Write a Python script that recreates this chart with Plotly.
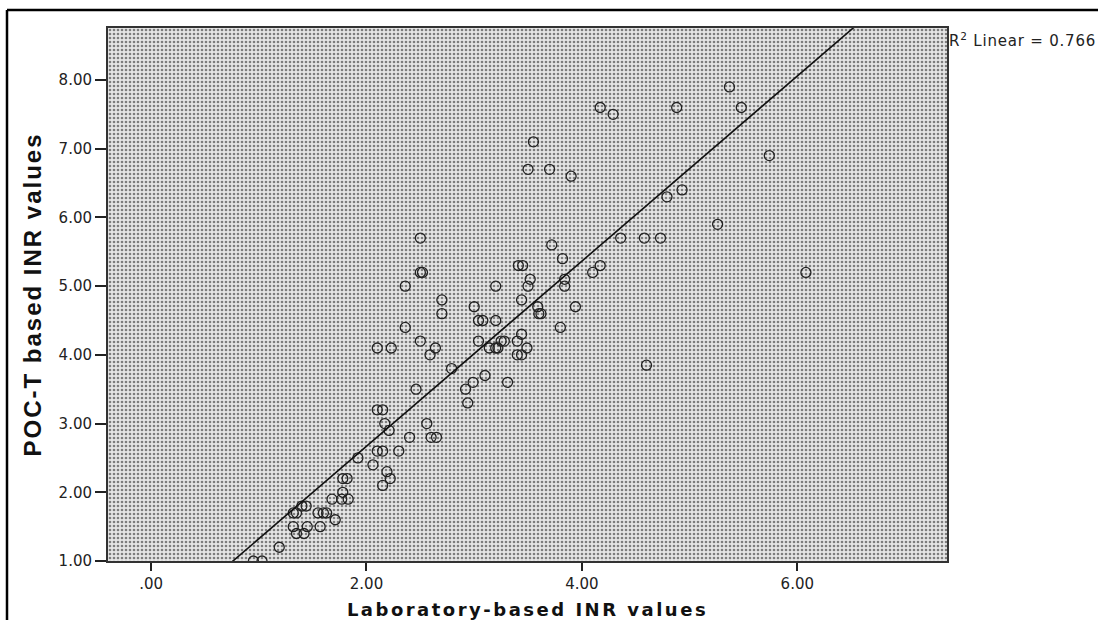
import numpy as np
import plotly.graph_objects as go

# Laboratory-based INR (x) and POC-T based INR (y) values
lab_inr = [0.95, 1.03, 1.19, 1.35, 1.42, 1.32, 1.45, 1.57, 1.71, 1.32,
           1.35, 1.55, 1.60, 1.63, 1.40, 1.44, 1.68, 1.77, 1.83, 1.78,
           1.78, 1.82, 1.92, 2.06, 2.10, 2.15, 2.30, 2.19, 2.22, 2.15,
           2.17, 2.21, 2.40, 2.60, 2.65, 2.56, 2.10, 2.15, 2.46, 2.79,
           2.92, 2.94, 2.99, 3.10, 3.31, 2.59, 2.64, 2.10, 2.23, 2.50,
           2.36, 2.70, 2.70, 2.36, 2.50, 2.52, 2.50, 3.00, 3.04, 3.08,
           3.20, 3.20, 3.04, 3.14, 3.20, 3.22, 3.25, 3.28, 3.40, 3.44,
           3.49, 3.40, 3.44, 3.41, 3.45, 3.52, 3.50, 3.44, 3.59, 3.60,
           3.62, 3.80, 3.94, 3.84, 3.84, 3.82, 3.72, 4.10, 4.17, 4.36,
           4.58, 4.73, 4.79, 4.93, 5.26, 5.74, 3.50, 3.70, 3.90, 3.55,
           4.17, 4.29, 4.88, 5.48, 5.37, 4.60, 6.08]
poc_inr = [1.0, 1.0, 1.2, 1.4, 1.4, 1.5, 1.5, 1.5, 1.6, 1.7,
           1.7, 1.7, 1.7, 1.7, 1.8, 1.8, 1.9, 1.9, 1.9, 2.0,
           2.2, 2.2, 2.5, 2.4, 2.6, 2.6, 2.6, 2.3, 2.2, 2.1,
           3.0, 2.9, 2.8, 2.8, 2.8, 3.0, 3.2, 3.2, 3.5, 3.8,
           3.5, 3.3, 3.6, 3.7, 3.6, 4.0, 4.1, 4.1, 4.1, 4.2,
           4.4, 4.6, 4.8, 5.0, 5.2, 5.2, 5.7, 4.7, 4.5, 4.5,
           4.5, 5.0, 4.2, 4.1, 4.1, 4.1, 4.2, 4.2, 4.2, 4.3,
           4.1, 4.0, 4.0, 5.3, 5.3, 5.1, 5.0, 4.8, 4.7, 4.6,
           4.6, 4.4, 4.7, 5.0, 5.1, 5.4, 5.6, 5.2, 5.3, 5.7,
           5.7, 5.7, 6.3, 6.4, 5.9, 6.9, 6.7, 6.7, 6.6, 7.1,
           7.6, 7.5, 7.6, 7.6, 7.9, 3.85, 5.2]

# Linear fit as shown on the chart
fit_slope = 1.347
fit_intercept = -0.024
r2_text = "R<sup>2</sup> Linear = 0.766"

x_tick_vals = [0, 2, 4, 6]
x_tick_text = [".00", "2.00", "4.00", "6.00"]
y_tick_vals = [1, 2, 3, 4, 5, 6, 7, 8]
y_tick_text = ["1.00", "2.00", "3.00", "4.00", "5.00", "6.00", "7.00", "8.00"]

x_range = [-0.40, 7.39]
y_range = [1.0, 8.757]

x_title = "Laboratory-based INR values"
y_title = "POC-T based INR values"

fig = go.Figure()

# dotted plot background (SPSS style)
fig.add_trace(go.Scatter(
    x=[x_range[0], x_range[1], x_range[1], x_range[0], x_range[0]],
    y=[y_range[0], y_range[0], y_range[1], y_range[1], y_range[0]],
    mode="lines", fill="toself", line=dict(width=0),
    fillcolor="rgba(0,0,0,0)",
    fillpattern=dict(shape=".", fgcolor="#7e7e7e", bgcolor="#e6e6e6",
                     size=4, solidity=0.34, fillmode="replace"),
    hoverinfo="skip", showlegend=False))

fig.add_trace(go.Scatter(
    x=lab_inr, y=poc_inr, mode="markers",
    marker=dict(symbol="circle-open", size=10, color="#222222",
                line=dict(width=1.3, color="#222222")),
    showlegend=False))

line_x = np.array(x_range)
line_y = fit_slope * line_x + fit_intercept
fig.add_trace(go.Scatter(
    x=line_x, y=line_y, mode="lines",
    line=dict(color="#111111", width=1.6),
    hoverinfo="skip", showlegend=False))

W, H = 1098, 620
L, R, T, B = 108, 151, 28, 59
pw, ph = W - L - R, H - T - B

fig.update_layout(
    width=W, height=H,
    margin=dict(l=L, r=R, t=T, b=B, pad=0, autoexpand=False),
    paper_bgcolor="white", plot_bgcolor="#c4c4c4",
    font=dict(family="DejaVu Sans", size=14, color="#222222"),
    xaxis=dict(range=x_range, tickvals=x_tick_vals, ticktext=x_tick_text,
               automargin=False,
               showgrid=False, zeroline=False, ticks="outside", ticklen=8,
               tickwidth=1.5, tickcolor="#222222",
               showline=True, linecolor="#333333", linewidth=2, mirror=True,
               tickfont=dict(family="DejaVu Sans", size=15, color="#222222"),
               title=dict(text='<span style="letter-spacing:2.5px">' + x_title + '</span>',
                          standoff=12,
                          font=dict(family="DejaVu Sans", size=18, color="#111111",
                                    weight="bold"))),
    yaxis=dict(range=y_range, tickvals=y_tick_vals, ticktext=y_tick_text,
               automargin=False,
               showgrid=False, zeroline=False, ticks="outside", ticklen=11,
               tickwidth=1.5, tickcolor="#222222",
               showline=True, linecolor="#333333", linewidth=2, mirror=True,
               tickfont=dict(family="DejaVu Sans", size=15, color="#222222"),
               title=dict(text='<span style="letter-spacing:2px">' + y_title + '</span>',
                          standoff=10,
                          font=dict(family="Liberation Sans", size=24, color="#111111",
                                    weight="bold"))),
    annotations=[
        dict(text='<span style="letter-spacing:0.8px">' + r2_text + '</span>',
             xref="paper", yref="paper", x=1.0, y=1 - 12 / ph,
             xanchor="left", yanchor="middle", showarrow=False,
             font=dict(family="DejaVu Sans", size=15, color="#222222")),
    ],
    shapes=[
        dict(type="line", xref="paper", yref="paper",
             x0=-101 / pw, x1=(W - L) / pw + 0.01, y0=1 + 18 / ph, y1=1 + 18 / ph,
             line=dict(color="black", width=2.5)),
        dict(type="line", xref="paper", yref="paper",
             x0=-101 / pw, x1=-101 / pw, y0=1 + 18 / ph, y1=-(B + 5) / ph,
             line=dict(color="black", width=2.5)),
    ],
)

fig.write_html("out.html", config={"displayModeBar": False},
               post_script="document.body.style.margin='0';document.body.style.overflow='hidden';")
